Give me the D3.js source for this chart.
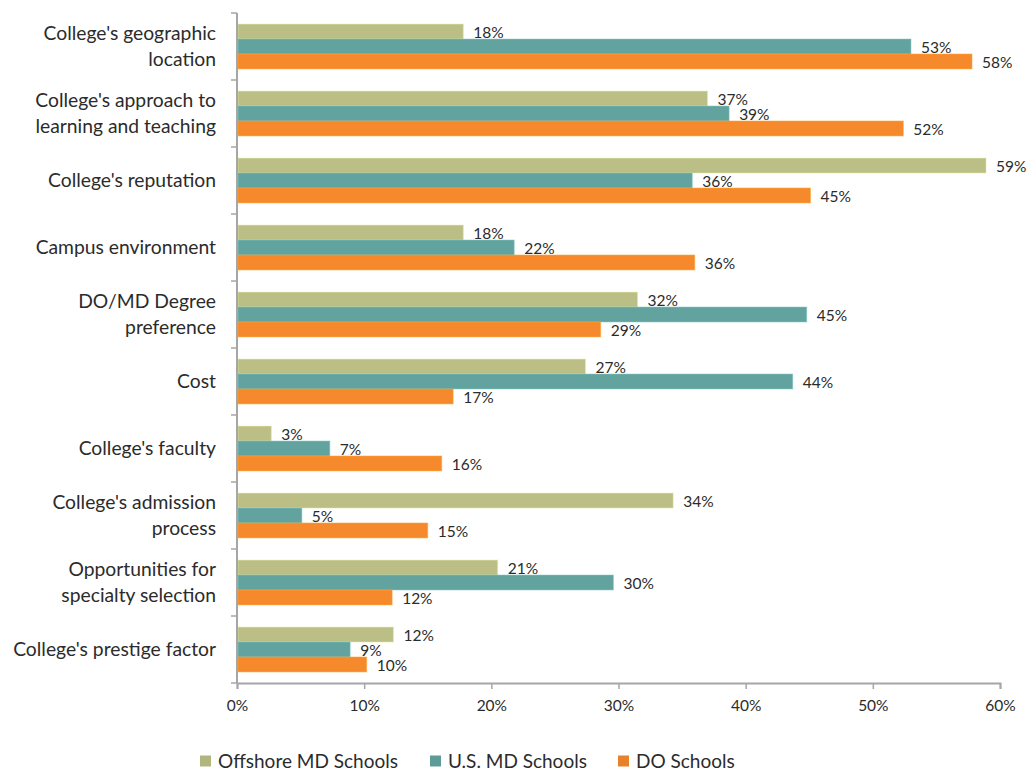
<!DOCTYPE html>
<html>
<head>
<meta charset="utf-8">
<script src="https://cdn.jsdelivr.net/npm/d3@7"></script>
<style>
  body { margin: 0; background: #fff; }
  svg { font-family: Lato, 'Open Sans', sans-serif; }
</style>
</head>
<body>
<div id="chart"></div>
<script>
'use strict';

// categories, each one split on the line break seen in the picture
var categories = [
  ["College's geographic", 'location'],
  ["College's approach to", 'learning and teaching'],
  ["College's reputation"],
  ['Campus environment'],
  ['DO/MD Degree', 'preference'],
  ['Cost'],
  ["College's faculty"],
  ["College's admission", 'process'],
  ['Opportunities for', 'specialty selection'],
  ["College's prestige factor"]
]

var seriesNames = ['Offshore MD Schools', 'U.S. MD Schools', 'DO Schools']
var seriesColors = ['#bbbf85', '#63a39f', '#f5892c']

// values in percent
var offshoreMD = [17.8, 37.0, 58.9, 17.8, 31.5, 27.4, 2.7, 34.3, 20.5, 12.3]
var usMD       = [53.0, 38.7, 35.8, 21.8, 44.8, 43.7, 7.3, 5.1, 29.6, 8.9]
var doSchools  = [57.8, 52.4, 45.1, 36.0, 28.6, 17.0, 16.1, 15.0, 12.2, 10.2]

var xTicks = [0, 10, 20, 30, 40, 50, 60]

var seriesValues = [offshoreMD, usMD, doSchools]

var W = 1028, H = 773
var margin = {top: 13, right: 28, bottom: 90, left: 237},
    width = W - margin.left - margin.right,
    height = H - margin.top - margin.bottom

var svg = d3.select('#chart').append('svg')
    .attr('width', W)
    .attr('height', H)
  .append('g')
    .attr('transform', 'translate(' + margin.left + ',' + margin.top + ')')

var x = d3.scaleLinear()
  .domain([0, 60])
  .range([0, width])

var y = d3.scaleBand()
  .domain(d3.range(categories.length))
  .range([0, height])

var yInner = d3.scaleBand()
  .domain(d3.range(seriesNames.length))
  .range([y.bandwidth() * 0.165, y.bandwidth() * 0.835])

var axisColor = '#a6a6a6'
var textColor = '#2b2b2b'

// bars
var groups = svg.selectAll('.group')
    .data(categories)
  .enter().append('g')
    .attr('class', 'group')
    .attr('transform', function(d, i){ return 'translate(0,' + y(i) + ')' })

seriesNames.forEach(function(name, s){
  groups.append('rect')
      .attr('x', x(0) + 1)
      .attr('y', yInner(s))
      .attr('width', function(d, i){ return x(seriesValues[s][i]) - x(0) - 1 })
      .attr('height', yInner.bandwidth())
      .attr('fill', seriesColors[s])
      .attr('stroke', d3.color(seriesColors[s]).brighter(0.6))
      .attr('stroke-opacity', 0.5)
      .attr('stroke-width', 1)

  groups.append('text')
      .attr('x', function(d, i){ return x(seriesValues[s][i]) + 10 })
      .attr('y', yInner(s) + yInner.bandwidth() / 2 + 1.5)
      .attr('dy', '0.35em')
      .text(function(d, i){ return Math.round(seriesValues[s][i]) + '%' })
      .attr('font-size', '15.5px')
      .attr('fill', textColor)
})

// category labels
groups.append('text')
    .attr('x', -21)
    .attr('y', function(d){ return y.bandwidth() / 2 - (d.length - 1) * 13 })
    .attr('text-anchor', 'end')
    .attr('font-size', '19.3px')
    .attr('fill', textColor)
  .selectAll('tspan')
    .data(function(d){ return d })
  .enter().append('tspan')
    .attr('x', -21)
    .attr('dy', function(d, i){ return i === 0 ? '0.35em' : '26px' })
    .text(function(d){ return d })

// y axis line + boundary ticks
svg.append('line')
    .attr('x1', 0).attr('x2', 0)
    .attr('y1', 0).attr('y2', height)
    .attr('stroke', axisColor)
    .attr('stroke-width', 2)

svg.selectAll('.ytick')
    .data(d3.range(categories.length + 1))
  .enter().append('line')
    .attr('x1', -6).attr('x2', 0)
    .attr('y1', function(i){ return i * y.step() })
    .attr('y2', function(i){ return i * y.step() })
    .attr('stroke', axisColor)
    .attr('stroke-width', 1.5)

// x axis
var xAxis = d3.axisBottom(x)
  .tickValues(xTicks)
  .tickSize(6)
  .tickFormat(function(d){ return d + '%' })

var xg = svg.append('g')
    .attr('transform', 'translate(0,' + height + ')')
    .call(xAxis)

xg.select('.domain')
    .attr('stroke', axisColor)
    .attr('stroke-width', 2)
xg.selectAll('.tick line')
    .attr('stroke', axisColor)
    .attr('stroke-width', 1.5)
xg.selectAll('.tick text')
    .attr('y', 17)
    .attr('font-family', 'Lato, sans-serif')
    .attr('font-size', '15.5px')
    .attr('fill', textColor)

// legend
var legendX = [200, 430, 618]
var legend = svg.selectAll('.legend')
    .data(seriesNames)
  .enter().append('g')
    .attr('class', 'legend')
    .attr('transform', function(d, i){ return 'translate(' + (legendX[i] - margin.left) + ',' + (761 - margin.top) + ')' })

legend.append('rect')
    .attr('x', 0)
    .attr('y', -5.5)
    .attr('width', 11)
    .attr('height', 11)
    .attr('fill', function(d, i){ return d3.color(seriesColors[i]).darker(0.15) })

legend.append('text')
    .attr('x', 18)
    .attr('dy', '0.35em')
    .text(function(d){ return d })
    .attr('font-size', '19px')
    .attr('fill', textColor)
</script>
</body>
</html>
